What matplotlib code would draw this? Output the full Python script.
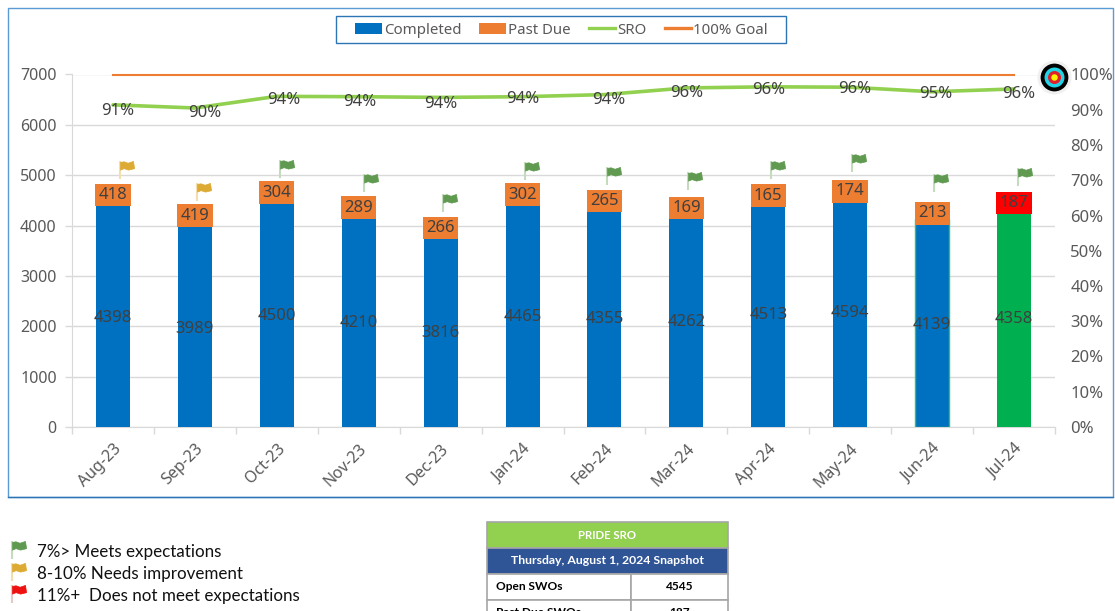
import matplotlib
matplotlib.use("Agg")
import numpy as np
import matplotlib.pyplot as plt
from matplotlib.path import Path
from matplotlib.patches import Rectangle
from matplotlib.lines import Line2D
from matplotlib.ticker import PercentFormatter

W, H = 1115, 611
FONT = "Noto Sans"
LOWER_FONT = "Lato"

months = ["Aug-23", "Sep-23", "Oct-23", "Nov-23", "Dec-23", "Jan-24",
          "Feb-24", "Mar-24", "Apr-24", "May-24", "Jun-24", "Jul-24"]
completed = [4398, 3989, 4500, 4210, 3816, 4465, 4355, 4262, 4513, 4594, 4139, 4358]
past_due = [418, 419, 304, 289, 266, 302, 265, 169, 165, 174, 213, 187]
sro = [91.4, 90.5, 93.8, 93.7, 93.5, 93.7, 94.3, 96.2, 96.5, 96.4, 95.1, 95.9]
goal = [100] * 12

flag_colors = ["gold", "gold", "green", "green", "green", "green",
               "green", "green", "green", "green", "green", "green"]

# nudges in pixels
pct_dx = [5, 10, 7, 1, 0, 0, 4, 0, 0, 4, 4, 5]
pct_dy = [-6, -5, -4, -5, -7, -2, -5, -5, -3, -2, -2, -5]
flag_dx = [7, 2, 3, 5, 2, 2, 3, 2, 3, 2, 2, 4]
flag_gap = [4, 3, 3, 4, 4, 3, 4, 6, 5, 7, 9, 5]

legend_notes = ["7%> Meets expectations", "8-10% Needs improvement",
                "11%+  Does not meet expectations"]
note_colors = ["green", "gold", "red"]

table_title = "PRIDE SRO"
table_date = "Thursday, August 1, 2024 Snapshot"
table_labels = ["Open SWOs", "Past Due SWOs"]
table_values = ["4545", "187"]

FLAG_HEX = {"green": "#5F9A50", "gold": "#DDAA33", "red": "#EE1111"}
POLE_HEX = {"green": "#C5DBBE", "gold": "#F3DFAE", "red": "#E3C9C9"}

pole_path = Path([(0, 0), (0, 1)], [Path.MOVETO, Path.LINETO])
flag_path = Path([(0, 0.95), (0.2, 0.98), (0.42, 0.9), (0.72, 1.0), (0.78, 0.6),
                  (0.45, 0.52), (0.2, 0.6), (0, 0.52), (0, 0.95)], closed=False)


def draw_flag(ax, x, y, name, size=26):
    ax.plot(x, y, marker=pole_path, ms=size, mfc="none", mec=POLE_HEX[name], mew=1.5,
            clip_on=False, zorder=6)
    ax.plot(x, y, marker=flag_path, ms=size, mfc=FLAG_HEX[name], mec=FLAG_HEX[name], mew=0.5,
            clip_on=False, zorder=6)


plt.rcParams["font.family"] = [FONT, "DejaVu Sans"]
fig = plt.figure(figsize=(W / 100, H / 100), dpi=100)

# page layer in pixel coordinates: chart frame, legend box, flag key, snapshot table
page = fig.add_axes([0, 0, 1, 1], zorder=0)
page.set_xlim(0, W)
page.set_ylim(H, 0)
page.axis("off")
page.add_patch(Rectangle((8, 8), 1105, 489, fc="white", ec="#5B9BD5", lw=1.0))
page.plot([8, 1113], [497, 497], color="#2E75B6", lw=1.0)
page.add_patch(Rectangle((336, 16), 450, 27, fc="white", ec="#2E75B6", lw=1.0))

for i, note in enumerate(legend_notes):
    y = 551.5 + 22.4 * i
    draw_flag(page, 12, y + 7, note_colors[i], size=26)
    page.text(37, y, note, fontsize=12.25, family=LOWER_FONT, color="#111111", va="center")

grid_c = "#A6A6A6"
page.add_patch(Rectangle((487, 522), 241, 25.5, fc="#92D050", ec=grid_c, lw=1.2))
page.add_patch(Rectangle((487, 547.5), 241, 26, fc="#2F5597", ec=grid_c, lw=1.2))
page.text(607.5, 535.5, table_title, color="white", fontsize=8.2, family=LOWER_FONT,
          weight="bold", ha="center", va="center")
page.text(607.5, 561, table_date, color="white", fontsize=8.8, family=LOWER_FONT,
          weight="bold", ha="center", va="center")
for i, (lab, val) in enumerate(zip(table_labels, table_values)):
    top = 573.5 + 26 * i
    page.add_patch(Rectangle((487, top), 144, 26, fc="white", ec=grid_c, lw=1.2))
    page.add_patch(Rectangle((631, top), 97, 26, fc="white", ec=grid_c, lw=1.2))
    page.text(496, top + 13, lab, fontsize=8.6, family=LOWER_FONT, weight="bold",
              color="black", va="center")
    page.text(679.5, top + 13, val, fontsize=8.6, family=LOWER_FONT, weight="bold",
              color="black", ha="center", va="center")

# main chart
ax = fig.add_axes([72 / W, 1 - 427 / H, 983 / W, 352.5 / H], zorder=2)
ax.patch.set_alpha(0)
x = np.arange(len(months))
bar_w = 0.415

bar_colors = ["#0070C0"] * 11 + ["#00B050"]
edge_colors = ["none"] * 10 + ["#2FBF71", "none"]
top_colors = ["#ED7D31"] * 11 + ["#FF0000"]
ax.bar(x, completed, bar_w, color=bar_colors, edgecolor=edge_colors, lw=1.0, zorder=3)
ax.bar(x, past_due, bar_w, bottom=completed, color=top_colors, zorder=3)

ax.set_xlim(-0.5, 11.5)
ax.set_ylim(0, 7000)
ax.set_yticks(np.arange(0, 7001, 1000))
ax.set_xticks(x, months, rotation=45, ha="right", rotation_mode="anchor")
ax.set_xticks(np.arange(-0.5, 12, 1), minor=True)
ax.tick_params(axis="x", which="major", length=0, pad=10, labelsize=11.5, labelcolor="#595959")
ax.tick_params(axis="x", which="minor", length=5, color="#D9D9D9", width=1)
ax.tick_params(axis="y", length=5, color="#D9D9D9", width=1, pad=6,
               labelsize=11.5, labelcolor="#595959")
ax.grid(axis="y", color="#D9D9D9", lw=1.0, zorder=0)
ax.set_axisbelow(True)
for side in ["top", "right"]:
    ax.spines[side].set_visible(False)
for side in ["left", "bottom"]:
    ax.spines[side].set_color("#D9D9D9")

units_per_px = 7000 / 352.5
for i in x:
    ax.text(i, completed[i] / 2 - 2 * units_per_px, str(completed[i]), ha="center", va="center",
            fontsize=12, color="#404040", zorder=5)
    # the past due labels are filled boxes as wide as the bar
    mid = completed[i] + past_due[i] / 2
    ax.text(i, mid, str(past_due[i]), ha="center", va="center", fontsize=12, color="#404040",
            zorder=5, bbox=dict(boxstyle="square,pad=0.2", fc=top_colors[i], ec="none"))
    draw_flag(ax, i + flag_dx[i] / 81.9, mid + (12 + flag_gap[i]) * units_per_px, flag_colors[i])

# percent axis
ax2 = ax.twinx()
ax2.set_zorder(3)
ax2.set_ylim(0, 100)
ax2.set_yticks(np.arange(0, 101, 10))
ax2.yaxis.set_major_formatter(PercentFormatter(100, decimals=0))
ax2.tick_params(axis="y", length=0, pad=11, labelsize=12, labelcolor="#595959")
for spine in ax2.spines.values():
    spine.set_visible(False)

ax2.plot(x, sro, color="#92D050", lw=2.6, solid_capstyle="round", zorder=4)
ax2.plot(x, goal, color="#ED7D31", lw=1.5, clip_on=False, zorder=4)
for i in x:
    ax2.annotate(f"{round(sro[i])}%", (i, sro[i]), xytext=(pct_dx[i] * 0.72, pct_dy[i] * 0.72),
                 textcoords="offset points", ha="center", va="center",
                 fontsize=12, color="#404040", zorder=5)

# bullseye at the end of the goal line
target_x = 11.5 - 1 / 81.9
for size, color in [(600, "#F0F0F0"), (400, "black"), (207, "#22D3E8"), (88, "#E0202A"), (22, "#FFF200")]:
    ax2.scatter(target_x, 99.3, s=size, color=color, lw=0, clip_on=False, zorder=7)

handles = [Rectangle((0, 0), 1, 1, fc="#0070C0"), Rectangle((0, 0), 1, 1, fc="#ED7D31"),
           Line2D([], [], color="#92D050", lw=2.4), Line2D([], [], color="#ED7D31", lw=2.4)]
fig.legend(handles, ["Completed", "Past Due", "SRO", "100% Goal"], ncols=4,
           loc="center", bbox_to_anchor=(561.5 / W, 1 - 30 / H), fontsize=10.8,
           frameon=False, labelcolor="#595959", handlelength=1.76, handletextpad=0.15,
           columnspacing=1.2, borderpad=0, borderaxespad=0)

fig.savefig("out.png", dpi=100)
